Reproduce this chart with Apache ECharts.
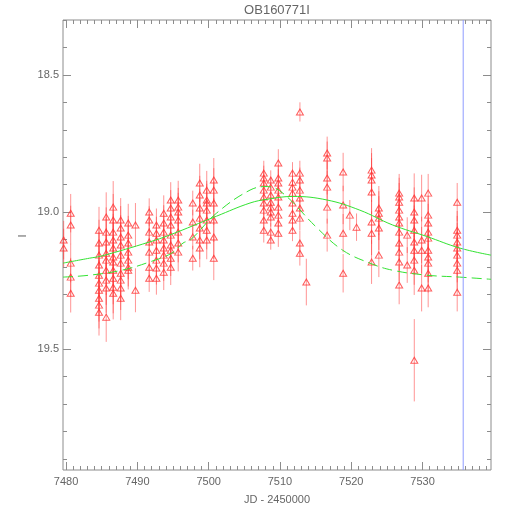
<!DOCTYPE html>
<html><head><meta charset="utf-8">
<script src="https://cdn.jsdelivr.net/npm/echarts@6/dist/echarts.min.js"></script>
<style>html,body{margin:0;padding:0;background:#fff}#c{width:510px;height:510px}</style>
</head><body><div id="c"></div>
<script>
const titleText = 'OB160771I';
const xName = 'JD - 2450000';
const yName = 'I';
const xRange = [7479.57, 7539.6];
const yRange = [18.30, 19.94];
const xMajorTicks = [7480, 7490, 7500, 7510, 7520, 7530];
const yMajorTicks = [18.5, 19.0, 19.5];
const markerJD = 7535.7;

const nightJD = [7479.66, 7480.65, 7484.62, 7485.63, 7486.61, 7487.66, 7488.72, 7489.73, 7491.66, 7492.67,
  7493.70, 7494.68, 7495.73, 7497.77, 7498.75, 7499.73, 7500.72, 7507.73, 7508.71, 7509.77,
  7511.76, 7512.79, 7512.80, 7513.70, 7516.62, 7518.86, 7519.80, 7520.74, 7522.85, 7523.87,
  7526.72, 7527.85, 7528.83, 7528.84, 7529.87, 7530.79, 7534.86];
const nightMag = [
  [19.102, 19.131],
  [19.004, 19.047, 19.186, 19.237, 19.296],
  [19.066, 19.113, 19.157, 19.193, 19.230, 19.259, 19.285, 19.314, 19.339, 19.365],
  [19.018, 19.073, 19.109, 19.150, 19.175, 19.212, 19.248, 19.277, 19.383],
  [18.982, 19.029, 19.073, 19.102, 19.131, 19.164, 19.182, 19.212, 19.241, 19.274, 19.296],
  [19.029, 19.058, 19.091, 19.120, 19.157, 19.186, 19.223, 19.248, 19.277, 19.314],
  [19.040, 19.084, 19.113, 19.146, 19.175, 19.201, 19.212],
  [19.047, 19.285],
  [19.000, 19.029, 19.073, 19.109, 19.146, 19.201, 19.241],
  [19.047, 19.077, 19.102, 19.139, 19.175, 19.204, 19.241],
  [19.004, 19.040, 19.073, 19.102, 19.131, 19.157, 19.186, 19.219],
  [18.956, 18.985, 19.018, 19.047, 19.084, 19.120, 19.139, 19.168, 19.201],
  [18.956, 18.982, 19.000, 19.029, 19.073, 19.113, 19.146],
  [18.967, 19.036, 19.091, 19.168],
  [18.894, 18.938, 18.985, 19.022, 19.058, 19.102, 19.131],
  [18.920, 18.956, 18.967, 18.993, 19.029, 19.066, 19.102],
  [18.883, 18.920, 18.967, 19.029, 19.091, 19.168],
  [18.858, 18.876, 18.894, 18.920, 18.945, 18.967, 18.993, 19.029, 19.066],
  [18.883, 18.909, 18.938, 18.964, 18.982, 19.000, 19.018, 19.073, 19.102],
  [18.821, 18.876, 18.894, 18.920, 18.945, 18.982, 19.011, 19.040, 19.077],
  [18.858, 18.891, 18.909, 18.931, 18.967, 19.004, 19.029, 19.066],
  [18.858, 18.883, 18.920, 18.949, 18.985, 19.022, 19.113, 19.150],
  [18.635],
  [19.255],
  [18.785, 18.803, 18.876, 18.909, 18.982, 19.084],
  [18.854, 18.974, 19.077, 19.223],
  [19.011],
  [19.055],
  [18.847, 18.865, 18.883, 18.927, 19.036, 19.077, 19.182],
  [18.985, 19.004, 19.022, 19.058, 19.157],
  [18.931, 18.945, 18.964, 18.993, 19.018, 19.040, 19.073, 19.113, 19.146, 19.182, 19.266],
  [19.084, 19.193],
  [18.949, 19.000, 19.029, 19.066, 19.109, 19.139, 19.175, 19.212],
  [19.540],
  [18.949, 19.102, 19.139, 19.277],
  [18.931, 19.011, 19.040, 19.073, 19.095, 19.139, 19.164, 19.186, 19.223, 19.277],
  [18.964, 19.066, 19.084, 19.109, 19.131, 19.157, 19.186, 19.212, 19.292]
];
const nightErr = [0.07, 0.07, 0.085, 0.09, 0.095, 0.08, 0.07, 0.08, 0.05, 0.06,
  0.065, 0.065, 0.07, 0.045, 0.07, 0.07, 0.08, 0.045, 0.035, 0.05,
  0.04, 0.045, 0.035, 0.085, 0.06, 0.07, 0.055, 0.05, 0.08, 0.08,
  0.07, 0.065, 0.09, 0.15, 0.085, 0.07, 0.07];

const solidJD = [7479.57, 7483.3, 7485.0, 7491.7, 7494.5, 7501.1, 7505.8, 7508.3, 7511.8, 7516.6, 7521.2, 7525.8, 7530.6, 7535.2, 7539.6];
const solidMag = [19.186, 19.168, 19.160, 19.109, 19.084, 19.015, 18.967, 18.953, 18.943, 18.956, 18.993, 19.047, 19.089, 19.131, 19.157];
const dashJD = [7479.57, 7483.3, 7487.8, 7491.7, 7494.8, 7496.4, 7497.5, 7501.1, 7505.8, 7508.2, 7510.4, 7515.1, 7518.8, 7522.6, 7525.8, 7530.6, 7535.2, 7539.6];
const dashMag = [19.237, 19.230, 19.212, 19.182, 19.150, 19.113, 19.100, 19.004, 18.920, 18.907, 18.931, 19.055, 19.139, 19.186, 19.212, 19.230, 19.237, 19.245];

const AX = '#8c8c8c';
const TXT = '#666';
const FONT = 'Liberation Sans, Arial, sans-serif';

const points = [];
nightJD.forEach((jd, i) => nightMag[i].forEach(m => points.push([jd, m, nightErr[i]])));

const xMinor = []; for (let v = 7480; v <= 7539; v++) xMinor.push(v);
const yMinor = []; for (let k = 183; k <= 199; k++) yMinor.push(k / 10);

function xAx(pos, ticks, len, label) {
  const a = {
    type: 'value', position: pos, min: xRange[0], max: xRange[1],
    axisLine: { show: false }, splitLine: { show: false },
    axisTick: { show: true, inside: true, length: len, customValues: ticks, lineStyle: { color: AX, width: 1 } },
    axisLabel: label ? { show: true, customValues: ticks, margin: 6, color: TXT, fontSize: 11, fontFamily: FONT,
      formatter: v => String(Math.round(v)) } : { show: false }
  };
  if (label) {
    a.name = xName; a.nameLocation = 'middle'; a.nameGap = 24;
    a.nameTextStyle = { color: TXT, fontSize: 11, fontFamily: FONT };
  }
  return a;
}
function yAx(pos, ticks, len, label) {
  return {
    type: 'value', position: pos, inverse: true, min: yRange[0], max: yRange[1],
    axisLine: { show: false }, splitLine: { show: false },
    axisTick: { show: true, inside: true, length: len, customValues: ticks, lineStyle: { color: AX, width: 1 } },
    axisLabel: label ? { show: true, customValues: ticks, margin: 4, color: TXT, fontSize: 11, fontFamily: FONT,
      formatter: v => v.toFixed(1) } : { show: false }
  };
}

const chart = echarts.init(document.getElementById('c'), null, { renderer: 'canvas' });
chart.setOption({
  animation: false,
  backgroundColor: '#fff',
  grid: { left: 63, right: 19, top: 20, bottom: 40, show: true, borderColor: AX, borderWidth: 1, backgroundColor: 'transparent' },
  xAxis: [xAx('bottom', xMajorTicks, 8, true), xAx('bottom', xMinor, 4, false), xAx('top', xMajorTicks, 8, false), xAx('top', xMinor, 4, false)],
  yAxis: [yAx('left', yMajorTicks, 8, true), yAx('left', yMinor, 4, false), yAx('right', yMajorTicks, 8, false), yAx('right', yMinor, 4, false)],
  graphic: [
    { type: 'text', x: 277, y: 10, style: { text: titleText, align: 'center', verticalAlign: 'middle', fontSize: 13, fill: TXT, fontFamily: FONT } },
    { type: 'text', x: 23, y: 236, rotation: Math.PI / 2, style: { text: yName, align: 'center', verticalAlign: 'middle', fontSize: 11, fill: TXT, fontFamily: FONT } }
  ],
  series: [
    {
      type: 'custom', xAxisIndex: 0, yAxisIndex: 0, data: points, silent: true,
      renderItem: (params, api) => {
        const x = api.value(0), y = api.value(1), e = api.value(2);
        const p1 = api.coord([x, y - e]), p2 = api.coord([x, y + e]);
        return { type: 'line', shape: { x1: p1[0], y1: p1[1], x2: p2[0], y2: p2[1] },
          style: { stroke: 'rgba(255,60,60,0.55)', lineWidth: 1 } };
      }
    },
    {
      type: 'scatter', xAxisIndex: 0, yAxisIndex: 0, data: points.map(p => [p[0], p[1]]),
      symbol: 'triangle', symbolSize: [7, 6],
      itemStyle: { color: 'rgba(0,0,0,0)', borderColor: '#ff3535', borderWidth: 1 }
    },
    {
      type: 'line', xAxisIndex: 0, yAxisIndex: 0, data: solidJD.map((x, i) => [x, solidMag[i]]),
      showSymbol: false, smooth: 0.4, lineStyle: { color: '#33e333', width: 1 }
    },
    {
      type: 'line', xAxisIndex: 0, yAxisIndex: 0, data: dashJD.map((x, i) => [x, dashMag[i]]),
      showSymbol: false, smooth: 0.4, lineStyle: { color: '#33e333', width: 1, type: [10, 5] }
    },
    {
      type: 'line', xAxisIndex: 0, yAxisIndex: 0, silent: true,
      data: [[markerJD, yRange[0]], [markerJD, yRange[1]]],
      showSymbol: false, lineStyle: { color: '#8f9cff', width: 1 }
    }
  ]
});
</script></body></html>
